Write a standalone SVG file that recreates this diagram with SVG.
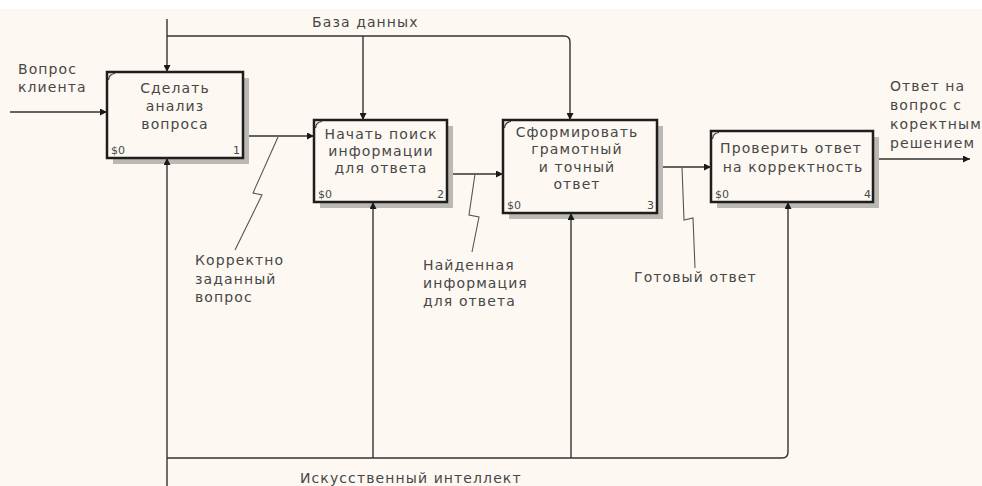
<svg xmlns="http://www.w3.org/2000/svg" width="982" height="486" viewBox="0 0 982 486">
<defs>
<marker id="ah" viewBox="0 0 10 10" refX="10" refY="5" markerWidth="7" markerHeight="7" markerUnits="userSpaceOnUse" orient="auto">
<path d="M0,0 L10,5 L0,10 z" fill="#1a1a1a"/>
</marker>
<style>
.bg{fill:#fdf8f2}
.box{fill:#fdf8f2;stroke:#1e1e1e;stroke-width:2.5}
.sh{fill:#bcb8b3}
.t{font-family:"DejaVu Sans",Verdana,sans-serif;font-size:14px;fill:#474747;letter-spacing:1.1px}
.c{text-anchor:middle}
.s{font-family:"DejaVu Sans",Verdana,sans-serif;font-size:11px;fill:#4a4a4a}
.ln{fill:none;stroke:#333;stroke-width:1.4}
.sq{fill:none;stroke:#555;stroke-width:1.1}
.cm{fill:none;stroke:#333;stroke-width:1.2}
</style>
</defs>
<rect x="0" y="0" width="982" height="486" class="bg"/>
<rect x="0" y="0" width="982" height="9" fill="#ffffff"/>

<g id="node1">
<rect class="sh" x="113" y="78" width="136" height="86"/>
<rect class="box" x="107" y="72" width="136" height="86"/>
<path class="cm" d="M108.5,80 Q109,74 115,73.5"/>
<text class="t c" x="175" y="93">Сделать</text>
<text class="t c" x="175" y="111">анализ</text>
<text class="t c" x="175" y="129">вопроса</text>
<text class="s" x="111" y="154">$0</text>
<text class="s" x="233" y="154">1</text>
</g>

<g id="node2">
<rect class="sh" x="320" y="126" width="133" height="82"/>
<rect class="box" x="314" y="120" width="133" height="82"/>
<path class="cm" d="M315.5,128 Q316,122 322,121.5"/>
<text class="t c" x="381" y="139">Начать поиск</text>
<text class="t c" x="381" y="156">информации</text>
<text class="t c" x="381" y="173">для ответа</text>
<text class="s" x="318" y="198">$0</text>
<text class="s" x="437" y="198">2</text>
</g>

<g id="node3">
<rect class="sh" x="509" y="126" width="154" height="93"/>
<rect class="box" x="503" y="120" width="154" height="93"/>
<path class="cm" d="M504.5,128 Q505,122 511,121.5"/>
<text class="t c" x="577" y="137">Сформировать</text>
<text class="t c" x="577" y="154">грамотный</text>
<text class="t c" x="577" y="172">и точный</text>
<text class="t c" x="577" y="189">ответ</text>
<text class="s" x="507" y="209">$0</text>
<text class="s" x="647" y="209">3</text>
</g>

<g id="node4">
<rect class="sh" x="717" y="137" width="162" height="71"/>
<rect class="box" x="711" y="131" width="162" height="71"/>
<path class="cm" d="M712.5,139 Q713,133 719,132.5"/>
<text class="t c" x="791" y="153">Проверить ответ</text>
<text class="t c" x="793" y="172">на корректность</text>
<text class="s" x="715" y="198">$0</text>
<text class="s" x="864" y="198">4</text>
</g>

<g id="connectors">
<path class="ln" d="M10,112 H107" marker-end="url(#ah)"/>
<path class="ln" d="M167,19 V72" marker-end="url(#ah)"/>
<path class="ln" d="M167,36 H564 Q570,36 570,42 V120" marker-end="url(#ah)"/>
<path class="ln" d="M363,36 V120" marker-end="url(#ah)"/>
<path class="ln" d="M249,136 H314" marker-end="url(#ah)"/>
<path class="sq" d="M278,137 L253,193 L262,195 L235,250"/>
<path class="ln" d="M453,174 H503" marker-end="url(#ah)"/>
<path class="sq" d="M475,174 L469,215 L479,217 L472,252"/>
<path class="ln" d="M663,167 H711" marker-end="url(#ah)"/>
<path class="sq" d="M682,167 L684,220 L693,218 L695,268"/>
<path class="ln" d="M879,159 H970" marker-end="url(#ah)"/>
<path class="ln" d="M167,486 V158" marker-end="url(#ah)"/>
<path class="ln" d="M167,458 H782 Q788,458 788,452 V202" marker-end="url(#ah)"/>
<path class="ln" d="M373,458 V202" marker-end="url(#ah)"/>
<path class="ln" d="M571,458 V213" marker-end="url(#ah)"/>
</g>

<g id="labels">
<text class="t" x="18" y="74">Вопрос</text>
<text class="t" x="18" y="92">клиента</text>
<text class="t" x="312" y="27">База данных</text>
<text class="t" x="195" y="265">Корректно</text>
<text class="t" x="195" y="284">заданный</text>
<text class="t" x="195" y="302">вопрос</text>
<text class="t" x="423" y="270">Найденная</text>
<text class="t" x="423" y="288">информация</text>
<text class="t" x="423" y="306">для ответа</text>
<text class="t" x="634" y="282">Готовый ответ</text>
<text class="t" x="890" y="91">Ответ на</text>
<text class="t" x="890" y="110">вопрос с</text>
<text class="t" x="890" y="129">коректным</text>
<text class="t" x="890" y="148">решением</text>
<text class="t" x="300" y="483">Искусственный интеллект</text>
</g>
</svg>
